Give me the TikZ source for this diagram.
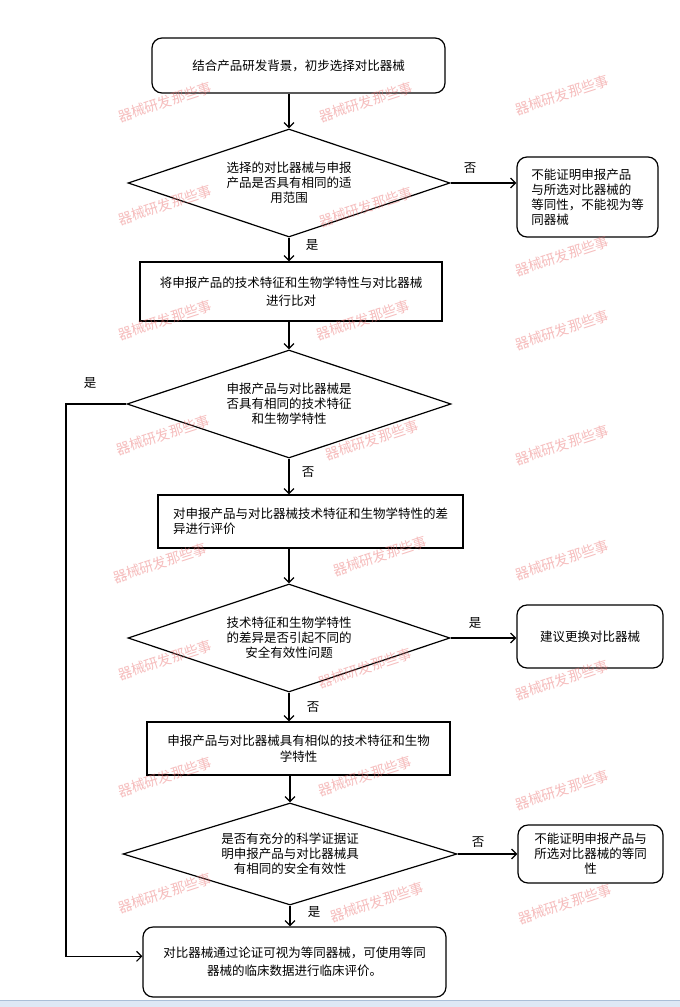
\documentclass[tikz,border=0pt]{standalone}
\usepackage{fontspec}
\setmainfont{Liberation Serif}
\newfontfamily\cjk{Noto Sans CJK SC}
\usetikzlibrary{shapes.geometric,arrows.meta,calc}
\definecolor{wmred}{RGB}{235,110,110}
\definecolor{barblue}{RGB}{222,232,245}
\definecolor{barline}{RGB}{170,190,215}
\begin{document}
\begin{tikzpicture}[x=1pt,y=-1pt,
  font=\cjk\fontsize{12.5}{15}\selectfont,
  box/.style={draw, line width=1.2pt, inner sep=0pt, align=center, fill=white},
  rbox/.style={box, rounded corners=10pt},
  dec/.style={draw, diamond, aspect=3, line width=1.2pt, inner sep=0pt, align=center, fill=white},
  arr/.style={line width=1.2pt, -{Straight Barb[length=5pt,width=10pt,line width=1.2pt]}},
  lbl/.style={inner sep=0pt},
  wm/.style={rotate=18, text=wmred, opacity=0.45, inner sep=0pt, font=\cjk\fontsize{14}{14}\selectfont}]

\fill[white] (0,0) rectangle (680,1007);
\useasboundingbox (0,0) rectangle (680,1007);

% nodes
\node[rbox, minimum width=293pt, minimum height=55pt] (n1) at (298.5,65.5) {结合产品研发背景，初步选择对比器械};
\node[dec, minimum width=322pt, minimum height=108pt] (d1) at (289,183) {选择的对比器械与申报\\产品是否具有相同的适\\用范围};
\node[rbox, minimum width=141pt, minimum height=80pt, align=left] (r1) at (587.5,197) {不能证明申报产品\\与所选对比器械的\\等同性，不能视为等\\同器械};
\node[box, minimum width=302pt, minimum height=59pt, font=\cjk\fontsize{12.5}{18}\selectfont] (n2) at (291,291.5) {将申报产品的技术特征和生物学特性与对比器械\\进行比对};
\node[dec, minimum width=324pt, minimum height=108pt] (d2) at (289,404) {申报产品与对比器械是\\否具有相同的技术特征\\和生物学特性};
\node[box, minimum width=305pt, minimum height=53pt, align=left] (n3) at (310.5,521.5) {对申报产品与对比器械技术特征和生物学特性的差\\异进行评价};
\node[dec, minimum width=322pt, minimum height=108pt] (d3) at (289,638) {技术特征和生物学特性\\的差异是否引起不同的\\安全有效性问题};
\node[rbox, minimum width=146pt, minimum height=63pt] (r2) at (590,636.5) {建议更换对比器械};
\node[box, minimum width=303pt, minimum height=53pt, font=\cjk\fontsize{12.5}{16}\selectfont] (n4) at (298.5,748.5) {申报产品与对比器械具有相似的技术特征和生物\\学特性};
\node[dec, minimum width=334pt, minimum height=102pt] (d4) at (290,854) {是否有充分的科学证据证\\明申报产品与对比器械具\\有相同的安全有效性};
\node[rbox, minimum width=145pt, minimum height=58pt] (r3) at (590.5,854) {不能证明申报产品与\\所选对比器械的等同\\性};
\node[rbox, minimum width=303pt, minimum height=70pt, font=\cjk\fontsize{12.5}{18.5}\selectfont] (n5) at (294.5,962) {对比器械通过论证可视为等同器械，可使用等同\\器械的临床数据进行临床评价。};

% connectors
\draw[arr] (d1.north |- n1.south) -- (d1.north);
\draw[arr] (d1.south) -- (d1.south |- n2.north);
\draw[arr] (d1.east) -- (d1.east -| r1.west);
\draw[arr] (n2.south -| d2.north) -- (d2.north);
\draw[arr] (d2.south) -- (d2.south |- n3.north);
\draw[arr] (n3.south -| d3.north) -- (d3.north);
\draw[arr] (d3.east) -- (d3.east -| r2.west);
\draw[arr] (d3.south) -- (d3.south |- n4.north);
\draw[arr] (n4.south -| d4.north) -- (d4.north);
\draw[arr] (d4.east) -- (d4.east -| r3.west);
\draw[arr] (d4.south) -- (d4.south |- n5.north);
\coordinate (lx) at (66,404);
\coordinate (n5in) at ($(n5.north west)!0.42!(n5.south west)$);
\draw[arr] (d2.west) -- (lx) |- (n5in);

% labels
\node[lbl] (l1) at (470,168) {否};
\node[lbl] (l2) at (312,245) {是};
\node[lbl] (l3) at (90,383) {是};
\node[lbl] (l4) at (308,472) {否};
\node[lbl] (l5) at (475,623) {是};
\node[lbl] (l6) at (313,707) {否};
\node[lbl] (l7) at (478,842) {否};
\node[lbl] (l8) at (314,912) {是};

% bottom bar
\fill[barblue] (0,1000) rectangle (680,1007);
\draw[barline, line width=0.8pt] (0,1000) -- (680,1000);

% watermarks
\node[wm] (wa1) at (165,102) {器械研发那些事};
\node[wm] (wa2) at (165,205) {器械研发那些事};
\node[wm] (wa3) at (165,320) {器械研发那些事};
\node[wm] (wa4) at (163,435) {器械研发那些事};
\node[wm] (wa5) at (160,563) {器械研发那些事};
\node[wm] (wa6) at (165,660) {器械研发那些事};
\node[wm] (wa7) at (165,777) {器械研发那些事};
\node[wm] (wa8) at (165,893) {器械研发那些事};
\node[wm] (wb1) at (366,102) {器械研发那些事};
\node[wm] (wb2) at (366,207) {器械研发那些事};
\node[wm] (wb3) at (363,320) {器械研发那些事};
\node[wm] (wb4) at (372,440) {器械研发那些事};
\node[wm] (wb5) at (380,556) {器械研发那些事};
\node[wm] (wb6) at (365,668) {器械研发那些事};
\node[wm] (wb7) at (365,776) {器械研发那些事};
\node[wm] (wb8) at (377,902) {器械研发那些事};
\node[wm] (wc1) at (562,95) {器械研发那些事};
\node[wm] (wc2) at (562,256) {器械研发那些事};
\node[wm] (wc3) at (562,330) {器械研发那些事};
\node[wm] (wc4) at (562,445) {器械研发那些事};
\node[wm] (wc5) at (562,560) {器械研发那些事};
\node[wm] (wc6) at (562,680) {器械研发那些事};
\node[wm] (wc7) at (562,790) {器械研发那些事};
\node[wm] (wc8) at (565,904) {器械研发那些事};
\end{tikzpicture}
\end{document}
